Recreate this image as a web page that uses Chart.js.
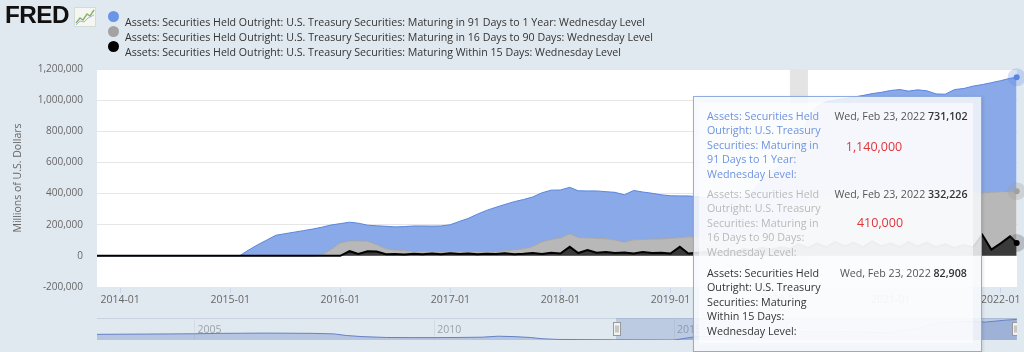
<!DOCTYPE html>
<html><head><meta charset="utf-8">
<script src="https://cdn.jsdelivr.net/npm/chart.js@4/dist/chart.umd.min.js"></script>
<style>
html,body{margin:0;padding:0;background:#e1e9f0;width:1024px;height:352px;overflow:hidden;font-family:"Open Sans",sans-serif;}
#wrap{position:relative;width:1024px;height:352px;}
canvas{position:absolute;}
#main{left:0;top:0;}
#nav{left:97px;top:318px;}
.abs{position:absolute;white-space:nowrap;}
.logo{left:5px;top:2px;font-family:"Liberation Sans",Arial,sans-serif;font-weight:bold;font-size:23px;color:#111;letter-spacing:-0.5px;transform-origin:left top;}
.dot{position:absolute;width:11px;height:11px;border-radius:50%;}
.lt{font-size:11.5px;line-height:15px;color:#333;transform-origin:left top;display:inline-block;}
#tip{position:absolute;left:693px;top:96px;width:287px;height:254px;border:1px solid rgba(110,145,215,0.75);background:rgba(246,248,251,0.86);box-shadow:1px 1px 3px rgba(0,0,0,0.12);}
#tipin{position:absolute;left:5px;top:6px;width:274px;height:240px;background:rgba(255,255,255,0.6);}
.tl{font-size:11.5px;line-height:14.5px;transform-origin:left top;}
.tr{font-size:11.5px;line-height:14.5px;color:#555;transform-origin:right top;text-align:right;}
.tr b{color:#333;font-weight:600;}
.red{font-size:12.5px;color:#e0353b;transform:translate(-50%,-50%);}
</style></head>
<body><div id="wrap">
<canvas id="main" width="1024" height="352"></canvas>
<canvas id="nav" width="920" height="22"></canvas>

<div class="abs logo" id="logo">FRED</div>
<svg class="abs" style="left:74px;top:7px" width="22" height="20" viewBox="0 0 22 20">
  <rect x="0.5" y="0.5" width="21" height="19" fill="#f4f6f2" stroke="#d6dbd3"/>
  <polyline points="2,16 6,11 9,13 13,7 16,9 20,3" fill="none" stroke="#8fb06a" stroke-width="1.4"/>
  <polyline points="2,18 6,14 10,15 14,11 20,8" fill="none" stroke="#9fb6d8" stroke-width="1"/>
</svg>

<div class="dot" style="left:108px;top:10.5px;background:#6b93e6"></div>
<div class="dot" style="left:108px;top:25.5px;background:#a3a3a3"></div>
<div class="dot" style="left:108px;top:40.5px;background:#000"></div>
<div class="abs" style="left:125px;top:8.5px"><span class="lt" id="l1">Assets: Securities Held Outright: U.S. Treasury Securities: Maturing in 91 Days to 1 Year: Wednesday Level</span></div>
<div class="abs" style="left:125px;top:23.5px"><span class="lt" id="l2">Assets: Securities Held Outright: U.S. Treasury Securities: Maturing in 16 Days to 90 Days: Wednesday Level</span></div>
<div class="abs" style="left:125px;top:38.5px"><span class="lt" id="l3">Assets: Securities Held Outright: U.S. Treasury Securities: Maturing Within 15 Days: Wednesday Level</span></div>

<div id="tip"><div id="tipin"></div></div>
<div class="abs tl" id="s1" style="left:707px;top:108.5px;color:#6f93e0"><span id="m1">Assets: Securities Held</span><br>Outright: U.S. Treasury<br>Securities: Maturing in<br>91 Days to 1 Year:<br>Wednesday Level:</div>
<div class="abs tl" id="s2" style="left:707px;top:186.5px;color:#b9b9b9"><span id="m2">Assets: Securities Held</span><br>Outright: U.S. Treasury<br>Securities: Maturing in<br>16 Days to 90 Days:<br>Wednesday Level:</div>
<div class="abs tl" id="s3" style="left:707px;top:265.5px;color:#333"><span id="m3">Assets: Securities Held</span><br>Outright: U.S. Treasury<br>Securities: Maturing<br>Within 15 Days:<br>Wednesday Level:</div>
<div class="abs tr" id="r1" style="right:57px;top:108.5px">Wed, Feb 23, 2022 <b>731,102</b></div>
<div class="abs tr" id="r2" style="right:57px;top:186.5px">Wed, Feb 23, 2022 <b>332,226</b></div>
<div class="abs tr" id="r3" style="right:57px;top:265.5px">Wed, Feb 23, 2022 <b>82,908</b></div>
<div class="abs red" style="left:874px;top:146px">1,140,000</div>
<div class="abs red" style="left:880px;top:222px">410,000</div>
</div>

<script>
// ---------- DATA ----------
const dates = ['2013-10','2015-02','2015-03','2015-04','2015-05','2015-06','2015-07','2015-08','2015-09','2015-10','2015-11','2015-12',
 '2016-01','2016-02','2016-03','2016-04','2016-05','2016-06','2016-07','2016-08','2016-09','2016-10','2016-11','2016-12',
 '2017-01','2017-02','2017-03','2017-04','2017-05','2017-06','2017-07','2017-08','2017-09','2017-10','2017-11','2017-12',
 '2018-01','2018-02','2018-03','2018-04','2018-05','2018-06','2018-07','2018-08','2018-09','2018-10','2018-11','2018-12',
 '2019-01','2019-02','2019-03','2019-04','2019-05','2019-06','2019-07','2019-08','2019-09','2019-10','2019-11','2019-12',
 '2020-01','2020-02','2020-03','2020-04','2020-05','2020-06','2020-07','2020-08','2020-09','2020-10','2020-11','2020-12',
 '2021-01','2021-02','2021-03','2021-04','2021-05','2021-06','2021-07','2021-08','2021-09','2021-10','2021-11','2021-12',
 '2022-01','2022-02','2022-02-23'];

// Maturing in 91 Days to 1 Year (millions)
const days91to1y = [0,0,35000,70000,100000,132000,142000,152000,162000,172000,179000,158000,
 124000,120000,114000,103000,121000,145000,148000,156000,164000,166000,165000,167000,
 174000,196000,213000,242000,267000,284000,298000,308000,317000,318000,315000,317000,
 308000,299000,300000,302000,305000,302000,306000,304000,317000,305000,294000,283000,
 274000,267000,263000,260000,257000,255000,256000,257000,262000,290000,340000,370000,
 395000,410000,460000,550000,590000,605000,610000,615000,622000,630000,640000,645000,
 660000,668000,660000,662000,665000,640000,633000,666000,671000,684000,696000,704000,
 713000,726000,731102];

// Maturing in 16 Days to 90 Days (millions)
const days16to90 = [0,0,0,0,0,0,0,0,0,0,5000,40000,
 83000,66000,84000,64000,44000,35000,26000,24000,14000,16000,11000,15000,
 10000,14000,12000,16000,11000,16000,16000,30000,32000,42000,78000,85000,
 100000,83000,100000,77000,92000,85000,84000,66000,88000,81000,90000,89000,
 97000,60000,107000,100000,93000,97000,82000,95000,73000,95000,100000,130000,
 130000,155000,185000,280000,290000,330000,300000,335000,313000,345000,307000,345000,
 322000,345000,308000,344000,310000,345000,330000,352000,334000,351000,269000,368000,
 332000,289000,332226];

// Maturing Within 15 Days (millions)
const within15 = [0,0,0,0,0,0,0,0,0,0,0,0,
 0,30000,12000,30000,28000,10000,12000,8000,14000,10000,15000,10000,
 16000,12000,15000,10000,14000,12000,16000,10000,13000,18000,12000,20000,
 15000,58000,18000,38000,20000,25000,18000,22000,15000,24000,18000,20000,
 15000,58000,15000,20000,25000,18000,30000,20000,45000,35000,50000,40000,
 55000,45000,75000,50000,80000,55000,90000,60000,85000,55000,95000,60000,
 80000,55000,90000,60000,85000,55000,75000,50000,70000,55000,135000,40000,
 80000,125000,82908];

const xTickValues = [2014,2015,2016,2017,2018,2019,2020,2021,2022];
const xTickLabels = ['2014-01','2015-01','2016-01','2017-01','2018-01','2019-01','2020-01','2021-01','2022-01'];
const recession = ['2020-02-01','2020-04-01'];

// Navigator (91 Days to 1 Year, full history)
const navDates = ['2002-12','2003-06','2004-01','2004-07','2005-01','2005-07','2006-01','2006-07','2007-01','2007-07','2007-12','2008-03','2008-07',
 '2009-01','2009-07','2010-01','2010-07','2011-01','2011-05','2011-09','2012-01','2012-04','2012-08','2013-01','2014-01','2015-01','2015-07',
 '2016-01','2016-07','2017-01','2017-07','2018-01','2018-07','2019-01','2019-07','2020-01','2020-07','2021-01','2021-07','2021-12','2022-02-23'];
const navValues = [200000,205000,210000,215000,220000,235000,240000,245000,240000,235000,215000,160000,120000,
 90000,85000,85000,90000,100000,135000,120000,90000,45000,20000,15000,5000,0,130000,
 124000,150000,174000,300000,308000,306000,274000,257000,395000,610000,660000,635000,704000,731102];
const navTickValues = [2005,2010,2015];
const navTickLabels = ['2005','2010','2015'];

// ---------- helpers ----------
function toYear(s){
  const p = s.split('-').map(Number);
  const y = p[0], m = p[1]||1, d = p[2]||1;
  const a = Date.UTC(y,0,1), b = Date.UTC(y+1,0,1);
  return y + (Date.UTC(y,m-1,d)-a)/(b-a);
}
const xs = dates.map(toYear);
const pts = arr => arr.map((v,i)=>({x:xs[i], y:v}));
const xMin = 2013.79, xMax = toYear('2022-02-23') + 0.003;

const FONT = '"Open Sans", sans-serif';

const bgPlugin = {
  id:'bg',
  beforeDraw(c){
    const {ctx, chartArea:a} = c;
    ctx.save(); ctx.fillStyle = '#ffffff';
    ctx.fillRect(a.left, a.top, a.right-a.left, a.bottom-a.top);
    ctx.restore();
  },
  beforeDatasetsDraw(c){
    const {ctx, chartArea:a, scales:{x}} = c;
    const x0 = x.getPixelForValue(toYear(recession[0])), x1 = x.getPixelForValue(toYear(recession[1]));
    ctx.save(); ctx.fillStyle = '#e4e4e4';
    ctx.fillRect(x0, a.top, x1-x0, a.bottom-a.top);
    ctx.restore();
  }
};

const haloPlugin = {
  id:'halo',
  afterDatasetsDraw(c){
    const ctx = c.ctx;
    c.data.datasets.forEach((ds,i)=>{
      const meta = c.getDatasetMeta(i);
      const el = meta.data[meta.data.length-1];
      if(!el) return;
      ctx.save();
      ctx.beginPath(); ctx.arc(el.x, el.y, 9, 0, Math.PI*2);
      ctx.fillStyle = ds.haloColor; ctx.fill();
      ctx.beginPath(); ctx.arc(el.x, el.y, 3, 0, Math.PI*2);
      ctx.fillStyle = ds.dotColor; ctx.fill();
      ctx.restore();
    });
  }
};

new Chart(document.getElementById('main'), {
  type:'line',
  data:{
    datasets:[
      {label:'Maturing Within 15 Days', data:pts(within15), borderColor:'#000000', borderWidth:2,
       backgroundColor:'#3a3a3a', fill:'origin', dotColor:'#000', haloColor:'rgba(60,60,60,0.25)'},
      {label:'Maturing in 16 Days to 90 Days', data:pts(days16to90), borderColor:'#a6a6a6', borderWidth:1,
       backgroundColor:'#b8b8b8', fill:'-1', dotColor:'#a0a0a0', haloColor:'rgba(160,160,160,0.3)'},
      {label:'Maturing in 91 Days to 1 Year', data:pts(days91to1y), borderColor:'#5a86df', borderWidth:1,
       backgroundColor:'#8aa9e8', fill:'-1', dotColor:'#5a86df', haloColor:'rgba(90,134,223,0.25)'}
    ]
  },
  options:{
    responsive:false, animation:false,
    layout:{padding:{left:12, top:69, right:7, bottom:0}},
    elements:{point:{radius:0, hoverRadius:0}, line:{tension:0}},
    plugins:{legend:{display:false}, tooltip:{enabled:false}},
    events:[],
    scales:{
      x:{type:'linear', min:xMin, max:xMax,
         afterBuildTicks:s=>{ s.ticks = xTickValues.map(v=>({value:v})); },
         afterFit:s=>{ s.height = 65; s.paddingLeft = 0; s.paddingRight = 0; },
         ticks:{autoSkip:false, maxRotation:0, padding:1, color:'#666', font:{family:FONT, size:10.5},
                callback:v=>{ const i = xTickValues.indexOf(v); return i<0 ? '' : xTickLabels[i]; }},
         grid:{drawOnChartArea:false, drawTicks:true, tickLength:6, color:'#ccd6eb'},
         border:{display:false}},
      y:{stacked:true, min:-200000, max:1200000,
         afterFit:s=>{ s.width = 85; s.paddingTop = 0; s.paddingBottom = 0; },
         ticks:{stepSize:200000, padding:14, color:'#666', font:{family:FONT, size:10},
                callback:v=>v.toLocaleString('en-US')},
         grid:{color:'#e6e6e6', drawTicks:false},
         border:{display:false},
         title:{display:true, text:'Millions of U.S. Dollars', color:'#666', padding:0, font:{family:FONT, size:10.5}}}
    }
  },
  plugins:[bgPlugin, haloPlugin]
});

// Navigator
const navPlugin = {
  id:'navdeco',
  beforeDatasetsDraw(c){
    const {ctx, chartArea:a, scales:{x}} = c;
    ctx.save();
    ctx.strokeStyle = '#c9d3df'; ctx.lineWidth = 1;
    ctx.beginPath(); ctx.moveTo(a.left, a.top+0.5); ctx.lineTo(a.right, a.top+0.5); ctx.stroke();
    navTickValues.forEach(v=>{
      const px = Math.round(x.getPixelForValue(v))+0.5;
      ctx.strokeStyle = '#d3dbe4';
      ctx.beginPath(); ctx.moveTo(px, a.top); ctx.lineTo(px, a.bottom); ctx.stroke();
    });
    ctx.restore();
  },
  afterDatasetsDraw(c){
    const {ctx, chartArea:a, scales:{x}} = c;
    ctx.save();
    ctx.fillStyle = '#9aa3ad'; ctx.font = '10.5px ' + FONT; ctx.textBaseline = 'middle';
    navTickValues.forEach((v,i)=>{ ctx.fillText(navTickLabels[i], x.getPixelForValue(v)+3, 12); });
    const m0 = x.getPixelForValue(xMin), m1 = a.right;
    ctx.fillStyle = 'rgba(102,133,194,0.3)';
    ctx.fillRect(m0, a.top, m1-m0, a.bottom-a.top);
    [m0, m1-2].forEach(h=>{
      const hx = Math.round(h-3.5)+0.5;
      ctx.fillStyle = '#f2f2f2'; ctx.strokeStyle = '#999';
      ctx.fillRect(hx, 4.5, 7, 13); ctx.strokeRect(hx, 4.5, 7, 13);
      ctx.beginPath(); ctx.moveTo(hx+2.5, 7.5); ctx.lineTo(hx+2.5, 14.5); ctx.moveTo(hx+4.5, 7.5); ctx.lineTo(hx+4.5, 14.5); ctx.stroke();
    });
    ctx.restore();
  }
};
new Chart(document.getElementById('nav'), {
  type:'line',
  data:{datasets:[{data:navValues.map((v,i)=>({x:toYear(navDates[i]), y:v})), borderColor:'#6580c4', borderWidth:1,
    backgroundColor:'rgba(102,133,194,0.35)', fill:'origin', pointRadius:0}]},
  options:{responsive:false, animation:false, events:[],
    layout:{padding:0},
    plugins:{legend:{display:false}, tooltip:{enabled:false}},
    scales:{x:{type:'linear', display:false, min:2002.97, max:xMax}, y:{display:false, min:0, max:780000}}},
  plugins:[navPlugin]
});

// ---------- text fitting ----------
function fit(el, measure, target){
  el.style.transform = '';
  const w = measure.getBoundingClientRect().width;
  if(w>0) el.style.transform = 'scaleX(' + (target/w) + ')';
}
function fitAll(){
  fit(document.getElementById('logo'), document.getElementById('logo'), 64);
  fit(document.getElementById('l1'), document.getElementById('l1'), 520);
  fit(document.getElementById('l2'), document.getElementById('l2'), 528);
  fit(document.getElementById('l3'), document.getElementById('l3'), 496);
  ['1','2','3'].forEach(k=>fit(document.getElementById('s'+k), document.getElementById('m'+k), 112));
  fit(document.getElementById('r1'), document.getElementById('r1'), 133);
  fit(document.getElementById('r2'), document.getElementById('r2'), 133);
  fit(document.getElementById('r3'), document.getElementById('r3'), 127);
}
fitAll();
if(document.fonts && document.fonts.ready) document.fonts.ready.then(fitAll);
</script>
</body></html>
